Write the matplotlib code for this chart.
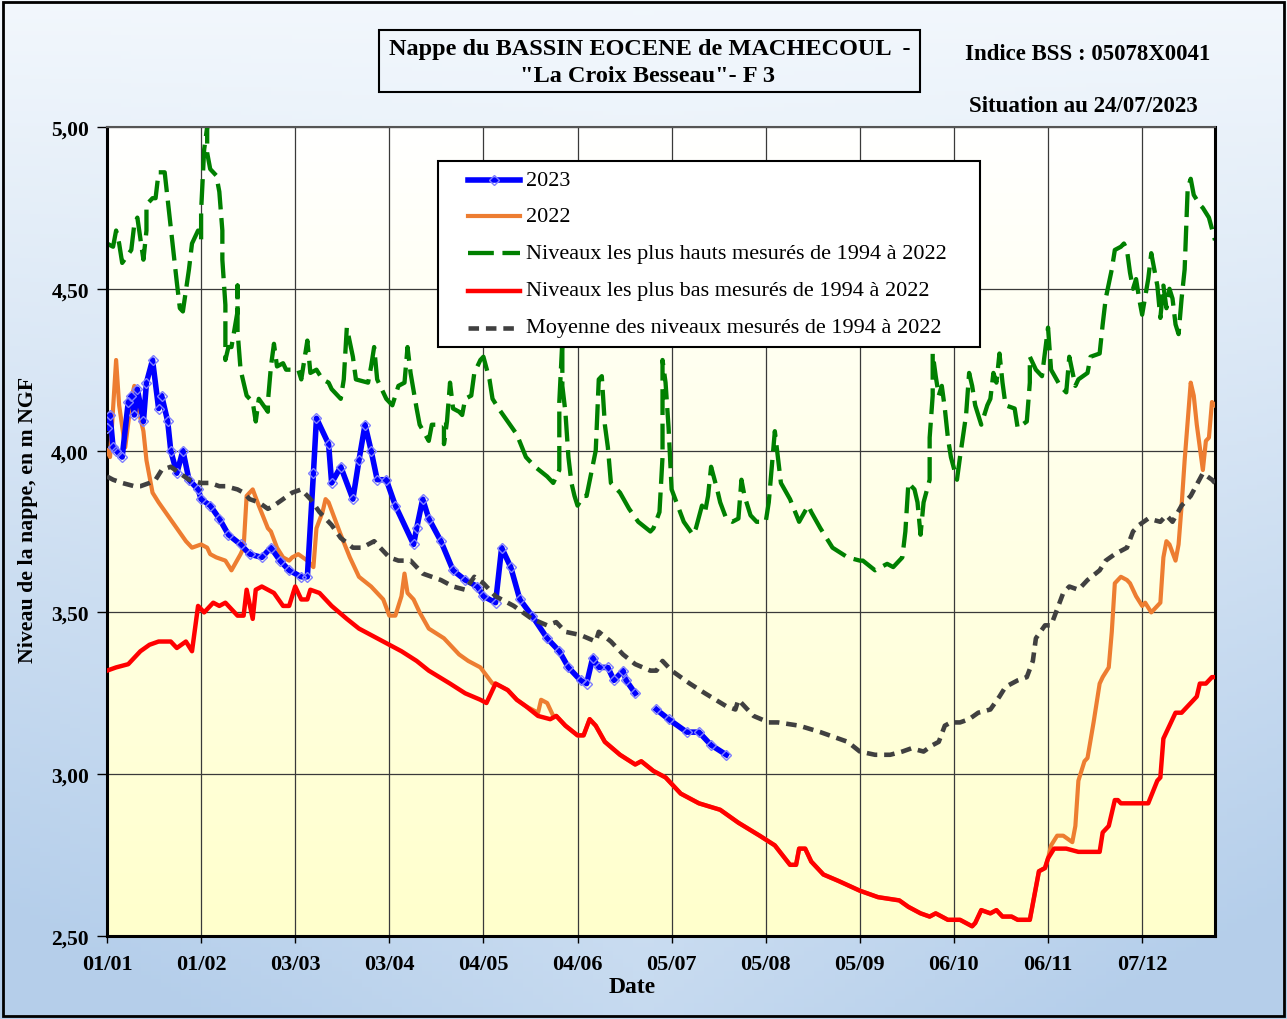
import numpy as np
import matplotlib
matplotlib.use("Agg")
import matplotlib.pyplot as plt
from matplotlib.patches import Rectangle
from matplotlib.lines import Line2D

plt.rcParams["font.family"] = ["Liberation Serif", "DejaVu Serif"]

# ---------------- data (x = day of year, 0 = 01/01) ----------------
tick_days = [0, 31, 62, 93, 124, 155, 186, 217, 248, 279, 310, 341]
tick_labels = ["01/01", "01/02", "03/03", "03/04", "04/05", "04/06",
               "05/07", "05/08", "05/09", "06/10", "06/11", "07/12"]
y_ticks = [2.5, 3.0, 3.5, 4.0, 4.5, 5.0]
y_tick_labels = ["2,50", "3,00", "3,50", "4,00", "4,50", "5,00"]

days_2023 = [0, 1, 2, 3, 5, 7, 8, 9, 10, 12,
             13, 15, 17, 18, 20, 21, 23, 25, 27, 30,
             31, 34, 37, 40, 44, 47, 51, 54, 57, 60,
             64, 66, 68, 69, 73, 74, 77, 81, 83, 85,
             87, 89, 92, 95, 101, 102, 104, 106, 110, 114,
             118, 122, 124, 128, 130, 133, 136, 140, 145, 149,
             152, 156, 158, 160, 162, 165, 167, 170, 171, 174,
             177, 181, 185, 191, 195, 199, 204]
level_2023 = [4.07, 4.11, 4.01, 4.00, 3.98, 4.15, 4.17, 4.11, 4.19, 4.09,
              4.21, 4.28, 4.13, 4.17, 4.09, 4.00, 3.93, 4.00, 3.91, 3.88,
              3.85, 3.83, 3.79, 3.74, 3.71, 3.68, 3.67, 3.70, 3.66, 3.63,
              3.61, 3.61, 3.93, 4.10, 4.02, 3.90, 3.95, 3.85, 3.97, 4.08,
              4.00, 3.91, 3.91, 3.83, 3.71, 3.76, 3.85, 3.79, 3.72, 3.63,
              3.60, 3.58, 3.55, 3.53, 3.70, 3.64, 3.54, 3.49, 3.42, 3.38,
              3.33, 3.29, 3.28, 3.36, 3.33, 3.33, 3.29, 3.32, 3.29, 3.25,
              np.nan, 3.20, 3.17, 3.13, 3.13, 3.09, 3.06]

days_2022_start = [0, 1, 3, 4, 6, 8, 9, 10, 12, 13,
                   15, 17, 20, 23, 26, 28, 31, 33, 34, 36,
                   39, 41, 44, 45, 46, 48, 50, 53, 54, 56,
                   58, 60, 61, 63, 66, 68, 69, 71, 72, 73,
                   75, 77, 80, 83, 87, 89, 91, 93, 95, 97,
                   98, 99, 101, 103, 106, 111, 116, 119, 123, 127,
                   128, 132, 135, 138, 142, 143, 145, 147]
level_2022_start = [4.00, 3.98, 4.28, 4.14, 4.01, 4.16, 4.20, 4.14, 4.06, 3.97,
                    3.87, 3.84, 3.80, 3.76, 3.72, 3.70, 3.71, 3.70, 3.68, 3.67,
                    3.66, 3.63, 3.68, 3.70, 3.86, 3.88, 3.83, 3.76, 3.75, 3.70,
                    3.67, 3.66, 3.67, 3.68, 3.66, 3.64, 3.76, 3.81, 3.85, 3.84,
                    3.79, 3.74, 3.67, 3.61, 3.58, 3.56, 3.54, 3.49, 3.49, 3.55,
                    3.62, 3.56, 3.54, 3.50, 3.45, 3.42, 3.37, 3.35, 3.33, 3.28,
                    3.28, 3.26, 3.23, 3.21, 3.19, 3.23, 3.22, 3.18]
days_2022_end = [311, 313, 315, 318, 319, 320, 322, 323, 325, 327,
                 328, 330, 331, 332, 334, 336, 337, 339, 341, 342,
                 344, 347, 348, 349, 350, 352, 353, 354, 355, 357,
                 358, 359, 361, 362, 363, 364, 365]
level_2022_end = [2.78, 2.81, 2.81, 2.79, 2.84, 2.98, 3.04, 3.05, 3.16, 3.28,
                  3.30, 3.33, 3.44, 3.59, 3.61, 3.60, 3.59, 3.55, 3.52, 3.53,
                  3.50, 3.53, 3.67, 3.72, 3.71, 3.66, 3.71, 3.83, 3.97, 4.21,
                  4.17, 4.08, 3.94, 4.03, 4.04, 4.15, 4.14]

days_max = [0, 2, 3, 4, 5, 8, 9, 10, 12, 13,
            13, 15, 16, 17, 19, 21, 23, 24, 25, 27,
            28, 30, 31, 31, 32, 33, 33, 34, 36, 37,
            38, 38, 39, 39, 39, 40, 41, 43, 43, 43,
            44, 46, 48, 49, 50, 53, 53, 54, 55, 56,
            58, 59, 63, 64, 66, 67, 69, 71, 73, 74,
            77, 78, 79, 81, 82, 86, 87, 88, 89, 92,
            94, 96, 98, 99, 100, 102, 103, 106, 107, 111,
            111, 112, 113, 114, 116, 117, 118, 120, 121, 123,
            124, 126, 127, 129, 132, 135, 138, 141, 145, 147,
            149, 149, 150, 150, 151, 152, 153, 154, 155, 157,
            158, 161, 162, 163, 164, 165, 166, 169, 172, 175,
            179, 180, 182, 183, 183, 184, 185, 186, 188, 190,
            193, 194, 196, 197, 198, 199, 201, 202, 204, 206,
            208, 209, 210, 212, 214, 217, 218, 220, 221, 222,
            225, 228, 231, 232, 235, 239, 244, 248, 249, 253,
            255, 257, 259, 262, 263, 264, 266, 267, 268, 269,
            271, 271, 272, 272, 273, 274, 275, 276, 277, 278,
            280, 281, 283, 284, 285, 286, 288, 290, 291, 292,
            293, 294, 295, 296, 299, 300, 303, 304, 304, 306,
            308, 310, 311, 314, 316, 317, 319, 320, 323, 324,
            327, 328, 329, 331, 332, 334, 335, 336, 337, 338,
            339, 340, 341, 343, 344, 345, 346, 347, 348, 349,
            350, 351, 352, 353, 354, 355, 356, 357, 358, 360,
            361, 363, 365]
level_max = [4.64, 4.63, 4.68, 4.64, 4.58, 4.62, 4.70, 4.72, 4.59, 4.68,
             4.76, 4.78, 4.78, 4.86, 4.86, 4.69, 4.52, 4.44, 4.43, 4.56,
             4.64, 4.68, 4.65, 4.74, 4.93, 5.00, 4.92, 4.87, 4.85, 4.80,
             4.68, 4.59, 4.45, 4.34, 4.28, 4.32, 4.32, 4.43, 4.51, 4.37,
             4.25, 4.17, 4.15, 4.09, 4.16, 4.12, 4.15, 4.26, 4.33, 4.26,
             4.27, 4.25, 4.25, 4.22, 4.34, 4.24, 4.25, 4.22, 4.21, 4.19,
             4.16, 4.22, 4.38, 4.29, 4.22, 4.21, 4.26, 4.32, 4.22, 4.16,
             4.14, 4.20, 4.21, 4.32, 4.24, 4.13, 4.08, 4.03, 4.08, 4.08,
             4.02, 4.09, 4.21, 4.13, 4.12, 4.11, 4.16, 4.17, 4.24, 4.28,
             4.29, 4.22, 4.16, 4.13, 4.09, 4.05, 3.98, 3.95, 3.92, 3.90,
             3.94, 4.15, 4.34, 4.20, 4.12, 3.98, 3.90, 3.86, 3.83, 3.86,
             3.86, 4.00, 4.22, 4.23, 4.08, 4.01, 3.90, 3.87, 3.82, 3.78,
             3.75, 3.76, 3.81, 3.98, 4.28, 4.21, 4.07, 3.88, 3.83, 3.78,
             3.74, 3.76, 3.83, 3.81, 3.86, 3.95, 3.88, 3.84, 3.79, 3.78,
             3.79, 3.91, 3.86, 3.80, 3.78, 3.78, 3.84, 4.06, 3.98, 3.90,
             3.85, 3.78, 3.83, 3.81, 3.76, 3.70, 3.67, 3.66, 3.66, 3.63,
             3.64, 3.65, 3.64, 3.67, 3.75, 3.90, 3.88, 3.84, 3.74, 3.84,
             3.91, 4.04, 4.17, 4.30, 4.23, 4.17, 4.20, 4.13, 4.04, 3.98,
             3.91, 3.98, 4.11, 4.24, 4.20, 4.14, 4.08, 4.14, 4.16, 4.24,
             4.21, 4.30, 4.21, 4.14, 4.13, 4.07, 4.09, 4.21, 4.29, 4.25,
             4.23, 4.38, 4.25, 4.20, 4.18, 4.29, 4.20, 4.22, 4.24, 4.29,
             4.30, 4.39, 4.47, 4.56, 4.62, 4.63, 4.64, 4.62, 4.55, 4.50,
             4.53, 4.47, 4.42, 4.53, 4.61, 4.56, 4.51, 4.41, 4.51, 4.44,
             4.50, 4.47, 4.39, 4.36, 4.47, 4.56, 4.81, 4.84, 4.79, 4.76,
             4.75, 4.72, 4.65]

days_min = [0, 3, 7, 9, 11, 14, 17, 21, 23, 26,
            28, 30, 32, 35, 37, 39, 43, 45, 46, 48,
            49, 51, 55, 58, 60, 62, 64, 66, 67, 70,
            74, 79, 83, 89, 93, 97, 102, 106, 113, 118,
            123, 125, 128, 132, 135, 138, 142, 146, 148, 151,
            155, 157, 159, 161, 164, 169, 174, 176, 180, 184,
            189, 191, 195, 202, 208, 215, 220, 225, 227, 228,
            230, 232, 236, 241, 248, 254, 261, 264, 268, 271,
            273, 277, 281, 283, 285, 286, 288, 291, 293, 295,
            298, 300, 304, 307, 309, 310, 312, 316, 320, 327,
            328, 330, 332, 333, 334, 343, 346, 347, 348, 350,
            352, 354, 357, 359, 360, 362, 364, 365]
level_min = [3.32, 3.33, 3.34, 3.36, 3.38, 3.40, 3.41, 3.41, 3.39, 3.41,
             3.38, 3.52, 3.50, 3.53, 3.52, 3.53, 3.49, 3.49, 3.57, 3.48,
             3.57, 3.58, 3.56, 3.52, 3.52, 3.58, 3.54, 3.54, 3.57, 3.56,
             3.52, 3.48, 3.45, 3.42, 3.40, 3.38, 3.35, 3.32, 3.28, 3.25,
             3.23, 3.22, 3.28, 3.26, 3.23, 3.21, 3.18, 3.17, 3.18, 3.15,
             3.12, 3.12, 3.17, 3.15, 3.10, 3.06, 3.03, 3.04, 3.01, 2.99,
             2.94, 2.93, 2.91, 2.89, 2.85, 2.81, 2.78, 2.72, 2.72, 2.77,
             2.77, 2.73, 2.69, 2.67, 2.64, 2.62, 2.61, 2.59, 2.57, 2.56,
             2.57, 2.55, 2.55, 2.54, 2.53, 2.54, 2.58, 2.57, 2.58, 2.56,
             2.56, 2.55, 2.55, 2.70, 2.71, 2.74, 2.77, 2.77, 2.76, 2.76,
             2.82, 2.84, 2.92, 2.92, 2.91, 2.91, 2.98, 2.99, 3.11, 3.15,
             3.19, 3.19, 3.22, 3.24, 3.28, 3.28, 3.30, 3.30]

days_mean = [0, 2, 5, 9, 11, 14, 16, 18, 21, 24,
             27, 31, 34, 37, 39, 43, 45, 47, 50, 53,
             55, 58, 61, 64, 67, 70, 74, 77, 81, 84,
             88, 90, 93, 96, 100, 104, 110, 114, 118, 121,
             124, 128, 134, 140, 145, 148, 151, 156, 161, 162,
             166, 170, 174, 179, 181, 183, 186, 192, 197, 204,
             207, 208, 213, 218, 221, 228, 235, 241, 244, 248,
             253, 258, 262, 265, 269, 272, 274, 276, 278, 281,
             284, 287, 291, 294, 296, 300, 303, 305, 306, 309,
             311, 313, 315, 317, 320, 323, 327, 329, 332, 336,
             338, 340, 343, 347, 349, 351, 354, 357, 361, 364,
             365]
level_mean = [3.92, 3.91, 3.90, 3.89, 3.89, 3.90, 3.91, 3.94, 3.95, 3.93,
              3.91, 3.90, 3.90, 3.89, 3.89, 3.88, 3.87, 3.85, 3.84, 3.82,
              3.83, 3.85, 3.87, 3.88, 3.85, 3.81, 3.77, 3.73, 3.70, 3.70,
              3.72, 3.70, 3.67, 3.66, 3.66, 3.62, 3.60, 3.58, 3.57, 3.61,
              3.59, 3.55, 3.52, 3.48, 3.46, 3.47, 3.44, 3.43, 3.41, 3.44,
              3.41, 3.37, 3.34, 3.32, 3.32, 3.35, 3.32, 3.28, 3.25, 3.21,
              3.20, 3.23, 3.18, 3.16, 3.16, 3.15, 3.13, 3.11, 3.10, 3.07,
              3.06, 3.06, 3.07, 3.08, 3.07, 3.09, 3.10, 3.15, 3.16, 3.16,
              3.17, 3.19, 3.20, 3.24, 3.27, 3.29, 3.30, 3.35, 3.42, 3.46,
              3.46, 3.51, 3.56, 3.58, 3.57, 3.60, 3.63, 3.66, 3.68, 3.70,
              3.75, 3.77, 3.79, 3.78, 3.80, 3.78, 3.83, 3.86, 3.93, 3.91,
              3.90]

# 2022 runs along the record-low curve (hidden beneath it) between its two visible parts
hidden = [(d, v) for d, v in zip(days_min, level_min) if 147 < d < 311]
days_2022 = days_2022_start + [d for d, _ in hidden] + days_2022_end
level_2022 = level_2022_start + [v for _, v in hidden] + level_2022_end

labels = ["2023", "2022",
          "Niveaux les plus hauts mesurés de 1994 à 2022",
          "Niveaux les plus bas mesurés de 1994 à 2022",
          "Moyenne des niveaux mesurés de 1994 à 2022"]

# ---------------- styles ----------------
C_2023, C_2022, C_MAX, C_MIN, C_MEAN = "#0000FF", "#ED7D31", "#008000", "#FF0000", "#404040"
ST_MAX = (0, (6, 2))
ST_MEAN = (0, (2.3, 1.5))
LW_2023, LW_2022, LW_MAX, LW_MIN, LW_MEAN = 4.0, 3.0, 3.1, 3.2, 3.3

W, H = 1287, 1020
fig = plt.figure(figsize=(W / 100, H / 100), dpi=100)

# figure background gradient
bg = fig.add_axes([0, 0, 1, 1], zorder=-10)
yy, xx = np.mgrid[0:1:256j, 0:1:128j]
tt = np.clip(yy * (0.72 + 0.8 * np.abs(xx - 0.5)), 0, 1)[..., None]
c_top = np.array([0.95, 0.97, 0.99])
c_bot = np.array([0.71, 0.81, 0.92])
bg.imshow(c_top * (1 - tt) + c_bot * tt, extent=[0, 1, 0, 1], aspect="auto", origin="upper")
bg.axis("off")

# main axes
ax = fig.add_axes([107 / W, 1 - 937 / H, (1215 - 107) / W, (937 - 128) / H])
t2 = np.linspace(0, 1, 256)[:, None, None]
g_top = np.array([1.0, 1.0, 1.0])
g_bot = np.array([1.0, 1.0, 0.80])
ax.imshow(g_top * (1 - t2) + g_bot * t2, extent=[0, 365, 2.5, 5.0], aspect="auto",
          origin="upper", zorder=0)
ax.set_xlim(0, 365)
ax.set_ylim(2.5, 5.0)
ax.set_axisbelow(True)
ax.grid(True, color="#3a3a3a", lw=0.9)

ax.plot(days_max, level_max, color=C_MAX, lw=LW_MAX, ls=ST_MAX, zorder=2)
ax.plot(days_2022, level_2022, color=C_2022, lw=LW_2022, zorder=3)
ax.plot(days_min, level_min, color=C_MIN, lw=LW_MIN, zorder=4)
ax.plot(days_2023, level_2023, color=C_2023, lw=LW_2023, marker="D", ms=5.5, mfc="none",
        mec="#7f7fff", mew=1.0, zorder=5)
ax.plot(days_mean, level_mean, color=C_MEAN, lw=LW_MEAN, ls=ST_MEAN, zorder=6)

ax.set_xticks(tick_days)
ax.set_xticklabels(tick_labels, fontsize=16, fontweight="bold")
ax.set_yticks(y_ticks)
ax.set_yticklabels(y_tick_labels, fontsize=15.5, fontweight="bold")
ax.tick_params(axis="x", direction="out", length=5, width=1, pad=8)
ax.tick_params(axis="y", direction="out", length=7, width=1, pad=6)
for s in ["left", "bottom", "right"]:
    ax.spines[s].set_linewidth(2.2)
    ax.spines[s].set_color("black")
ax.spines["top"].set_linewidth(1.5)
ax.spines["top"].set_color("#555555")

fig.text(28 / W, 1 - 520 / H, "Niveau de la nappe, en m NGF", rotation=90, ha="center",
         va="center", fontsize=15.7, fontweight="bold")
fig.text(632 / W, 1 - 988 / H, "Date", ha="center", va="center", fontsize=17, fontweight="bold")

# overlay in pixel coordinates: border, title boxes, legend
ov = fig.add_axes([0, 0, 1, 1], zorder=10)
ov.set_xlim(0, W)
ov.set_ylim(H, 0)
ov.axis("off")
ov.add_patch(Rectangle((3, 3), W - 6, H - 6, fill=False, lw=2, ec="black"))
ov.add_patch(Rectangle((379, 31), 541, 62, fill=False, lw=1.5, ec="black"))
ov.text(650, 49, "Nappe du BASSIN EOCENE de MACHECOUL  -", ha="center", va="center",
        fontsize=17.5, fontweight="bold")
ov.text(648, 77, "\"La Croix Besseau\"- F 3", ha="center", va="center",
        fontsize=17.5, fontweight="bold")
ov.text(1088, 55, "Indice BSS : 05078X0041", ha="center", va="center",
        fontsize=16.5, fontweight="bold")
ov.text(1083, 106, "Situation au 24/07/2023", ha="center", va="center",
        fontsize=16.5, fontweight="bold")

ov.add_patch(Rectangle((438, 162), 542, 186, facecolor="white", lw=1.5, ec="black"))
rows = [181, 217, 254, 292, 329]
handle_styles = [dict(color=C_2023, lw=LW_2023),
                 dict(color=C_2022, lw=LW_2022),
                 dict(color=C_MAX, lw=LW_MAX, ls=ST_MAX),
                 dict(color=C_MIN, lw=LW_MIN),
                 dict(color=C_MEAN, lw=LW_MEAN, ls=ST_MEAN)]
for y, lab, st in zip(rows, labels, handle_styles):
    ov.add_line(Line2D([468, 520], [y, y], **st))
    ov.text(526, y, lab, ha="left", va="center", fontsize=16)
ov.add_line(Line2D([494], [rows[0]], marker="D", ms=5.5, mfc="none", mec="#7f7fff", mew=1.0))

fig.savefig("out.png", dpi=100)
